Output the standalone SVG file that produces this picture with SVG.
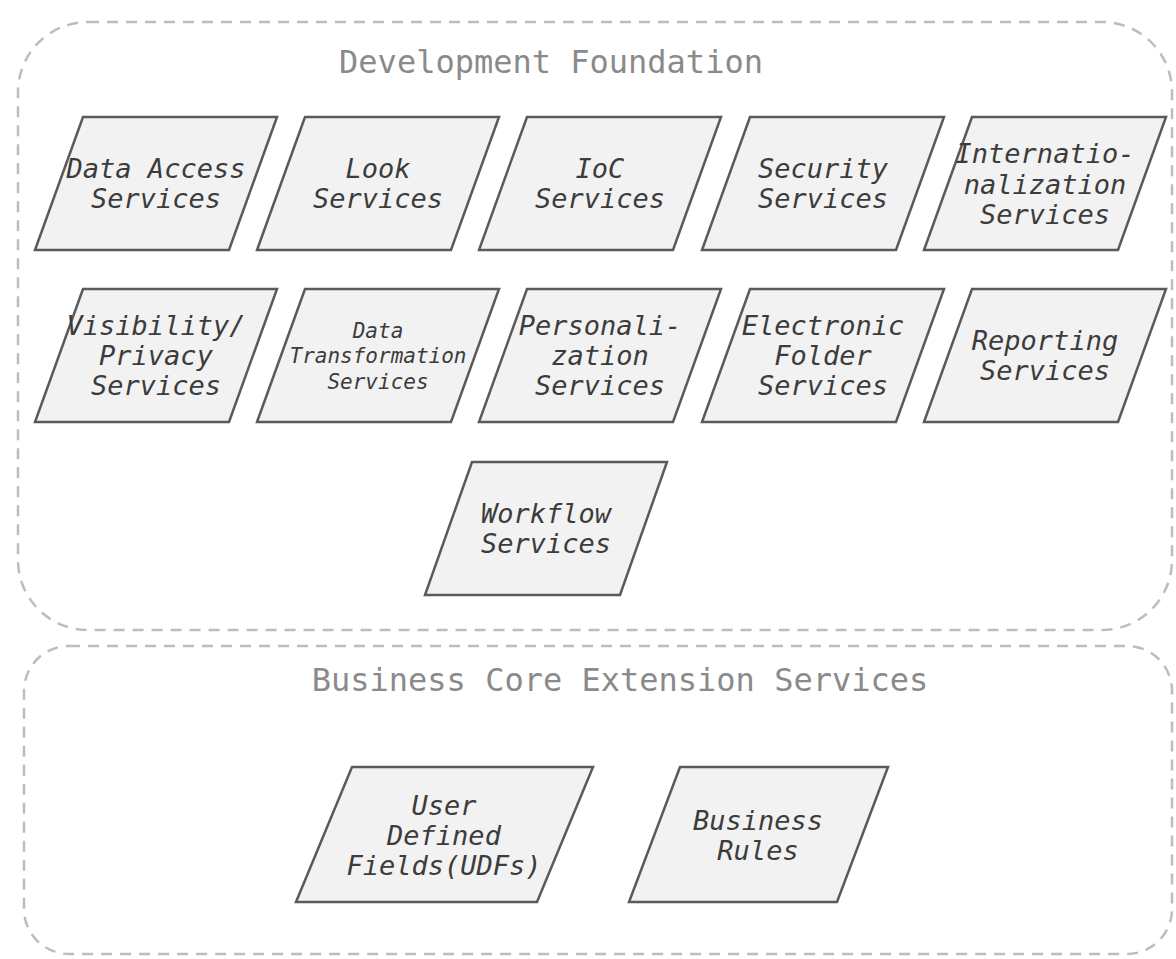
<svg xmlns="http://www.w3.org/2000/svg" width="1176" height="959" viewBox="0 0 1176 959">
<style>
.cont{fill:#ffffff;stroke:#bdbdbd;stroke-width:2.5;stroke-dasharray:11 8}
.title{font-family:"DejaVu Sans Mono","Liberation Mono",monospace;font-size:32px;fill:#8a8a8a;text-anchor:middle}
.box{fill:#f2f2f2;stroke:#5a5a5a;stroke-width:2.5;stroke-linejoin:miter}
.shadow{fill:none;stroke:#c8c8c8;stroke-width:2}
.lbl{font-family:"DejaVu Sans Mono","Liberation Mono",monospace;font-style:italic;font-size:27px;fill:#3c3c3c;text-anchor:middle}
.sm{font-size:21px}
</style>
<rect width="1176" height="959" fill="#ffffff"/>
<g id="development-foundation">
<rect class="cont" x="18" y="22" width="1154" height="608" rx="70" ry="70"/>
<text class="title" x="551" y="73">Development Foundation</text>
</g>
<g id="business-core-extension">
<rect class="cont" x="24" y="646" width="1148" height="308" rx="45" ry="45"/>
<text class="title" x="620" y="691">Business Core Extension Services</text>
</g>
<g id="connectors"></g>
<g id="data-access">
<polygon class="box" points="83,117 277,117 229,250 35,250"/>
<text class="lbl" x="156" y="178">Data Access</text>
<text class="lbl" x="156" y="208">Services</text>
</g>
<g id="look">
<polygon class="box" points="305,117 499,117 451,250 257,250"/>
<text class="lbl" x="378" y="178">Look</text>
<text class="lbl" x="378" y="208">Services</text>
</g>
<g id="ioc">
<polygon class="box" points="527,117 721,117 673,250 479,250"/>
<text class="lbl" x="600" y="178">IoC</text>
<text class="lbl" x="600" y="208">Services</text>
</g>
<g id="security">
<polygon class="box" points="750,117 944,117 896,250 702,250"/>
<text class="lbl" x="823" y="178">Security</text>
<text class="lbl" x="823" y="208">Services</text>
</g>
<g id="internationalization">
<polygon class="box" points="972,117 1166,117 1118,250 924,250"/>
<text class="lbl" x="1045" y="163">Internatio-</text>
<text class="lbl" x="1045" y="194">nalization</text>
<text class="lbl" x="1045" y="224">Services</text>
</g>
<g id="visibility">
<polygon class="box" points="83,289 277,289 229,422 35,422"/>
<text class="lbl" x="156" y="335">Visibility/</text>
<text class="lbl" x="156" y="365">Privacy</text>
<text class="lbl" x="156" y="395">Services</text>
</g>
<g id="data-transformation">
<polygon class="box" points="305,289 499,289 451,422 257,422"/>
<text class="lbl sm" x="378" y="338">Data</text>
<text class="lbl sm" x="378" y="363">Transformation</text>
<text class="lbl sm" x="378" y="389">Services</text>
</g>
<g id="personalization">
<polygon class="box" points="527,289 721,289 673,422 479,422"/>
<text class="lbl" x="600" y="335">Personali-</text>
<text class="lbl" x="600" y="365">zation</text>
<text class="lbl" x="600" y="395">Services</text>
</g>
<g id="electronic-folder">
<polygon class="box" points="750,289 944,289 896,422 702,422"/>
<text class="lbl" x="823" y="335">Electronic</text>
<text class="lbl" x="823" y="365">Folder</text>
<text class="lbl" x="823" y="395">Services</text>
</g>
<g id="reporting">
<polygon class="box" points="972,289 1166,289 1118,422 924,422"/>
<text class="lbl" x="1045" y="350">Reporting</text>
<text class="lbl" x="1045" y="380">Services</text>
</g>
<g id="workflow">
<polygon class="box" points="472,462 667,462 620,595 425,595"/>
<text class="lbl" x="546" y="523">Workflow</text>
<text class="lbl" x="546" y="553">Services</text>
</g>
<g id="udf">
<polygon class="box" points="352,767 593,767 537,902 296,902"/>
<text class="lbl" x="444" y="815">User</text>
<text class="lbl" x="444" y="845">Defined</text>
<text class="lbl" x="444" y="875">Fields(UDFs)</text>
</g>
<g id="business-rules">
<polygon class="box" points="680,767 888,767 837,902 629,902"/>
<text class="lbl" x="758" y="830">Business</text>
<text class="lbl" x="758" y="860">Rules</text>
</g>
</svg>
